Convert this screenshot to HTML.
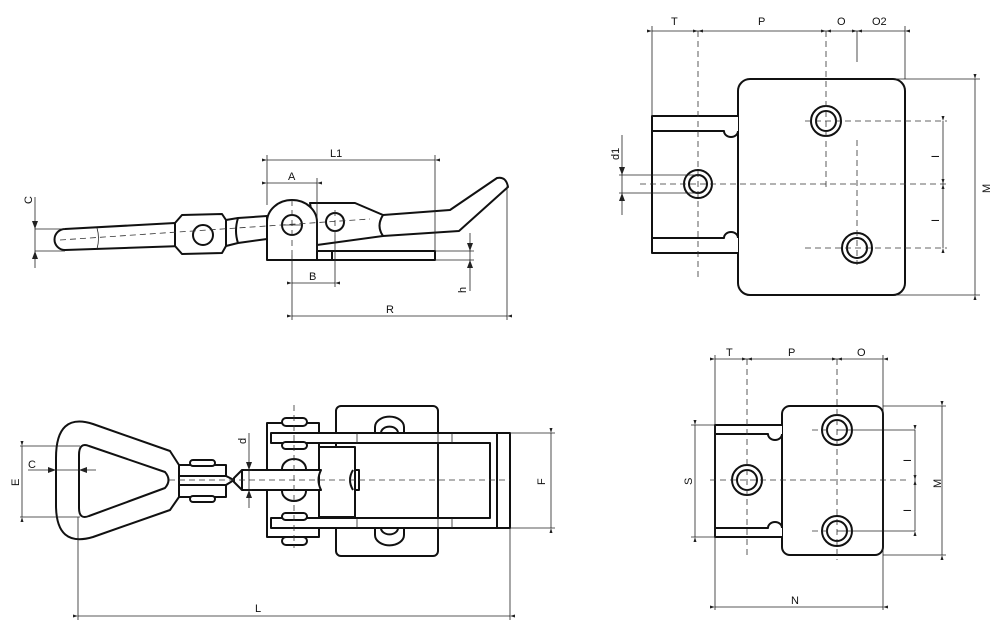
<!DOCTYPE html>
<html><head><meta charset="utf-8"><style>
html,body{margin:0;padding:0;background:#fff;}
svg{display:block;}
text{font-family:"Liberation Sans",sans-serif;font-size:11px;fill:#111;}
.o{fill:none;stroke:#111;stroke-width:2;stroke-linejoin:round;}
.f{fill:#fff;stroke:#111;stroke-width:2;stroke-linejoin:round;}
.d{fill:none;stroke:#222;stroke-width:0.8;}
.c{fill:none;stroke:#333;stroke-width:0.8;stroke-dasharray:6,4;}
.a{fill:none;stroke:#222;stroke-width:0.8;marker-start:url(#m);marker-end:url(#m);}
</style></head><body>
<svg width="1000" height="635" viewBox="0 0 1000 635" xmlns="http://www.w3.org/2000/svg">
<defs><marker id="m" viewBox="0 0 10 10" refX="0" refY="5" markerWidth="7" markerHeight="5" orient="auto-start-reverse" markerUnits="userSpaceOnUse"><path d="M0,5 L10,2 L10,8 Z" fill="#222"/></marker></defs>

<!-- ===== TOP LEFT SIDE VIEW ===== -->
<path class="f" d="M65,229 L175,223 L182,246 L65,250 A10.5,10.5 0 0 1 65,229 Z"/>
<path class="d" d="M97,228 Q100,238 97,249"/>
<path class="f" d="M175,223 L182,215 L222,214 L226,220 L226,246 L222,253 L182,254 L175,246 Z"/>
<circle class="o" cx="203" cy="235" r="10"/>
<path class="f" d="M226,220 L238,218 L267,216 L267,239 L238,243 L226,246 Z"/>
<path class="o" d="M238,218 Q234,231 238,243"/>
<path class="f" d="M310,203 L355,203 L383,215 L450,210 L497,178 Q506,176 508,187 L459,231 L383,236 L317,245 Z"/>
<path class="o" d="M383,215 Q376,226 383,236"/>
<rect class="f" x="317" y="251" width="118" height="9"/>
<line class="o" x1="332" y1="251" x2="332" y2="260"/>
<path class="f" d="M267,260 V222 A25,22 0 0 1 317,222 V260 Z"/>
<circle class="o" cx="292" cy="225" r="10"/>
<circle class="o" cx="335" cy="222" r="9"/>
<line class="c" x1="60" y1="240" x2="370" y2="219"/>
<line class="c" x1="292" y1="200" x2="292" y2="255"/>
<line class="c" x1="335" y1="210" x2="335" y2="235"/>
<line class="d" x1="282" y1="225" x2="302" y2="225"/>
<!-- dims -->
<line class="d" x1="267" y1="155" x2="267" y2="205"/>
<line class="d" x1="435" y1="155" x2="435" y2="251"/>
<line class="a" x1="267" y1="160" x2="435" y2="160"/>
<text x="330" y="157">L1</text>
<line class="d" x1="317" y1="178" x2="317" y2="251"/>
<line class="a" x1="267" y1="183" x2="317" y2="183"/>
<text x="288" y="180">A</text>
<line class="d" x1="292" y1="255" x2="292" y2="320"/>
<line class="d" x1="335" y1="235" x2="335" y2="287"/>
<line class="a" x1="292" y1="283" x2="335" y2="283"/>
<text x="309" y="280">B</text>
<line class="d" x1="507" y1="186" x2="507" y2="320"/>
<line class="a" x1="292" y1="316" x2="507" y2="316"/>
<text x="386" y="313">R</text>
<line class="d" x1="435" y1="251" x2="474" y2="251"/>
<line class="d" x1="435" y1="260" x2="474" y2="260"/>
<line class="d" x1="470" y1="233" x2="470" y2="291"/>
<path d="M470,251 L467,243 L473,243 Z M470,260 L467,268 L473,268 Z" fill="#222"/>
<text transform="translate(466,293) rotate(-90)">h</text>
<line class="d" x1="35" y1="229" x2="65" y2="229"/>
<line class="d" x1="35" y1="251" x2="65" y2="251"/>
<line class="d" x1="35" y1="197" x2="35" y2="268"/>
<path d="M35,229 L32,221 L38,221 Z M35,251 L32,259 L38,259 Z" fill="#222"/>
<text transform="translate(32,204) rotate(-90)">C</text>

<!-- ===== BOTTOM LEFT TOP VIEW ===== -->
<rect class="f" x="336" y="406" width="102" height="150" rx="5"/>
<path class="f" d="M375,433 V427 A14,10 0 0 1 404,427 V433"/>
<path class="o" d="M381,433 A8,6 0 0 1 398,433"/>
<path class="f" d="M375,528 V535 A14,10 0 0 0 404,535 V528"/>
<path class="o" d="M381,528 A8,6 0 0 0 398,528"/>
<rect class="f" x="267" y="423" width="52" height="114"/>
<rect class="f" x="282" y="418" width="25" height="8" rx="4"/>
<rect class="f" x="282" y="537" width="25" height="8" rx="4"/>
<path class="f" d="M271,433 H510 V528 H271 V518 H490 V443 H271 Z"/>
<line class="o" x1="497" y1="433" x2="497" y2="528"/>
<line class="d" x1="438" y1="433" x2="438" y2="528"/>
<line class="d" x1="452" y1="433" x2="452" y2="443"/>
<line class="d" x1="452" y1="518" x2="452" y2="528"/>
<line class="d" x1="357" y1="433" x2="357" y2="443"/>
<line class="d" x1="357" y1="518" x2="357" y2="528"/>
<rect class="f" x="282" y="442" width="25" height="7" rx="3.5"/>
<rect class="f" x="282" y="513" width="25" height="7" rx="3.5"/>
<rect class="f" x="319" y="447" width="36" height="70"/>
<path class="o" d="M353,470 Q347,480 353,490 M355,470 H359 V490 H355"/>
<path class="o" d="M282,469 A12,10 0 0 1 306,469 M282,491 A12,10 0 0 0 306,491"/>
<path class="f" d="M242,470 H321 Q316,480 321,490 H242 Z"/>
<path class="o" d="M242,470 L234,478 L234,482 L242,490"/>
<path class="f" d="M93,424 L170,451 L179,465 L179,497 L170,510 L93,537 Q56,548 56,505 L56,458 Q56,412 93,424 Z"/>
<path class="f" d="M89,446 L165,472 Q172,480 165,488 L89,516 Q79,520 79,508 L79,455 Q79,442 89,446 Z"/>
<rect class="f" x="179" y="465" width="47" height="32"/>
<rect class="f" x="190" y="460" width="25" height="6" rx="3"/>
<rect class="f" x="190" y="496" width="25" height="6" rx="3"/>
<path class="f" d="M179,476 H226 L234,480 L226,485 H179 Z"/>
<line class="c" x1="169" y1="480" x2="510" y2="480"/>
<line class="c" x1="294" y1="405" x2="294" y2="548"/>
<!-- dims -->
<line class="d" x1="20" y1="446" x2="80" y2="446"/>
<line class="d" x1="20" y1="517" x2="80" y2="517"/>
<line class="a" x1="22" y1="446" x2="22" y2="517"/>
<text transform="translate(19,486) rotate(-90)">E</text>
<line class="d" x1="28" y1="470" x2="96" y2="470"/>
<path d="M56,470 L48,467 L48,473 Z M79,470 L87,467 L87,473 Z" fill="#222"/>
<text x="28" y="468">C</text>
<line class="d" x1="244" y1="470" x2="252" y2="470"/>
<line class="d" x1="244" y1="490" x2="252" y2="490"/>
<line class="d" x1="249" y1="433" x2="249" y2="508"/>
<path d="M249,470 L246,462 L252,462 Z M249,490 L246,498 L252,498 Z" fill="#222"/>
<text transform="translate(246,444) rotate(-90)">d</text>
<line class="d" x1="510" y1="433" x2="555" y2="433"/>
<line class="d" x1="510" y1="528" x2="555" y2="528"/>
<line class="a" x1="551" y1="433" x2="551" y2="528"/>
<text transform="translate(545,485) rotate(-90)">F</text>
<line class="d" x1="78" y1="517" x2="78" y2="620"/>
<line class="d" x1="510" y1="528" x2="510" y2="620"/>
<line class="a" x1="78" y1="616" x2="510" y2="616"/>
<text x="255" y="612">L</text>

<!-- ===== TOP RIGHT VIEW ===== -->
<rect class="f" x="738" y="79" width="167" height="216" rx="12"/>
<path class="f" d="M738,116 H652 V131 H724 A7,6 0 0 0 738,131"/>
<path class="f" d="M738,253 H652 V238 H724 A7,6 0 0 1 738,238"/>
<line class="o" x1="652" y1="131" x2="652" y2="238"/>
<circle class="o" cx="698" cy="184" r="14"/><circle class="o" cx="698" cy="184" r="9"/>
<circle class="o" cx="826" cy="121" r="15"/><circle class="o" cx="826" cy="121" r="10"/>
<circle class="o" cx="857" cy="248" r="15"/><circle class="o" cx="857" cy="248" r="10"/>
<line class="c" x1="640" y1="184" x2="947" y2="184"/>
<line class="c" x1="805" y1="121" x2="947" y2="121"/>
<line class="c" x1="805" y1="248" x2="947" y2="248"/>
<line class="c" x1="698" y1="31" x2="698" y2="277"/>
<line class="c" x1="826" y1="31" x2="826" y2="190"/>
<line class="c" x1="857" y1="140" x2="857" y2="265"/>
<line class="d" x1="857" y1="31" x2="857" y2="62"/>
<line class="d" x1="652" y1="26" x2="652" y2="116"/>
<line class="d" x1="905" y1="26" x2="905" y2="79"/>
<line class="a" x1="652" y1="31" x2="698" y2="31"/>
<line class="a" x1="698" y1="31" x2="826" y2="31"/>
<line class="a" x1="826" y1="31" x2="857" y2="31"/>
<line class="a" x1="857" y1="31" x2="905" y2="31"/>
<text x="671" y="25">T</text><text x="758" y="25">P</text><text x="837" y="25">O</text><text x="872" y="25">O2</text>
<line class="a" x1="943" y1="121" x2="943" y2="184"/>
<line class="a" x1="943" y1="184" x2="943" y2="248"/>
<text transform="translate(939,158) rotate(-90)">I</text>
<text transform="translate(939,222) rotate(-90)">I</text>
<line class="d" x1="895" y1="79" x2="980" y2="79"/>
<line class="d" x1="895" y1="295" x2="980" y2="295"/>
<line class="a" x1="975" y1="79" x2="975" y2="295"/>
<text transform="translate(990,193) rotate(-90)">M</text>
<line class="d" x1="619" y1="175" x2="700" y2="175"/>
<line class="d" x1="619" y1="193" x2="700" y2="193"/>
<line class="d" x1="622" y1="135" x2="622" y2="215"/>
<path d="M622,175 L619,167 L625,167 Z M622,193 L619,201 L625,201 Z" fill="#222"/>
<text transform="translate(619,160) rotate(-90)">d1</text>

<!-- ===== BOTTOM RIGHT VIEW ===== -->
<rect class="f" x="782" y="406" width="101" height="149" rx="8"/>
<path class="f" d="M782,425 H715 V434 H768 A7,6 0 0 0 782,434"/>
<path class="f" d="M782,537 H715 V528 H768 A7,6 0 0 1 782,528"/>
<line class="o" x1="715" y1="434" x2="715" y2="528"/>
<circle class="o" cx="747" cy="480" r="15"/><circle class="o" cx="747" cy="480" r="10"/>
<circle class="o" cx="837" cy="430" r="15"/><circle class="o" cx="837" cy="430" r="10"/>
<circle class="o" cx="837" cy="531" r="15"/><circle class="o" cx="837" cy="531" r="10"/>
<line class="c" x1="710" y1="480" x2="908" y2="480"/>
<line class="c" x1="747" y1="359" x2="747" y2="555"/>
<line class="c" x1="837" y1="359" x2="837" y2="560"/>
<line class="c" x1="812" y1="430" x2="830" y2="430"/>
<line class="c" x1="812" y1="531" x2="830" y2="531"/>
<line class="d" x1="837" y1="430" x2="915" y2="430"/>
<line class="d" x1="837" y1="531" x2="915" y2="531"/>
<line class="d" x1="715" y1="355" x2="715" y2="610"/>
<line class="d" x1="883" y1="355" x2="883" y2="610"/>
<line class="a" x1="715" y1="359" x2="747" y2="359"/>
<line class="a" x1="747" y1="359" x2="837" y2="359"/>
<line class="a" x1="837" y1="359" x2="883" y2="359"/>
<text x="726" y="356">T</text><text x="788" y="356">P</text><text x="857" y="356">O</text>
<line class="a" x1="915" y1="430" x2="915" y2="480"/>
<line class="a" x1="915" y1="480" x2="915" y2="531"/>
<text transform="translate(911,462) rotate(-90)">I</text>
<text transform="translate(911,512) rotate(-90)">I</text>
<line class="d" x1="883" y1="406" x2="946" y2="406"/>
<line class="d" x1="883" y1="555" x2="946" y2="555"/>
<line class="a" x1="942" y1="406" x2="942" y2="555"/>
<text transform="translate(941,488) rotate(-90)">M</text>
<line class="d" x1="691" y1="425" x2="715" y2="425"/>
<line class="d" x1="691" y1="537" x2="715" y2="537"/>
<line class="a" x1="695" y1="425" x2="695" y2="537"/>
<text transform="translate(692,485) rotate(-90)">S</text>
<line class="a" x1="715" y1="607" x2="883" y2="607"/>
<text x="791" y="604">N</text>
</svg>
</body></html>
